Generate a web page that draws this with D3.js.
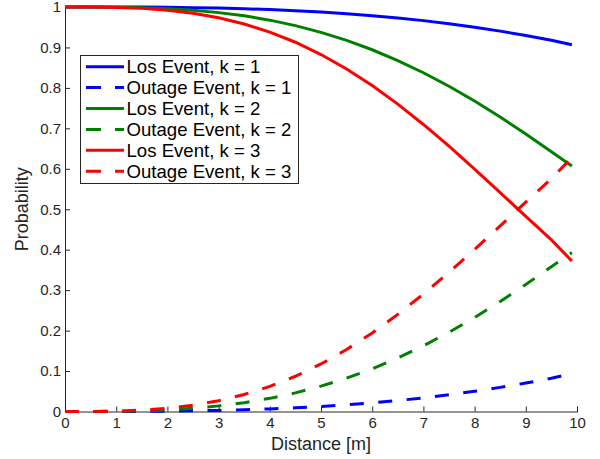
<!DOCTYPE html>
<html>
<head>
<meta charset="utf-8">
<script src="https://cdn.jsdelivr.net/npm/d3@7"></script>
<style>
  html, body { margin: 0; padding: 0; background: #fff; }
  svg { display: block; font-family: "Liberation Sans", Arial, Helvetica, sans-serif; }
</style>
</head>
<body>
<svg id="chart" width="600" height="459"></svg>
<script>
// ---- Data ----
const distance = [0, 0.5, 1, 1.5, 2, 2.5, 3, 3.5, 4, 4.5, 5, 5.5, 6, 6.5, 7, 7.5, 8, 8.5, 9, 9.5, 9.9];

const losK1 = [1, 1.0000, 0.9999, 0.9997, 0.9992, 0.9984, 0.9973, 0.9957, 0.9936, 0.9909, 0.9876,
               0.9835, 0.9786, 0.9729, 0.9663, 0.9587, 0.9501, 0.9404, 0.9297, 0.9179, 0.9065];
const outK1 = [0, 0.0000, 0.0001, 0.0003, 0.0008, 0.0016, 0.0027, 0.0043, 0.0064, 0.0091, 0.0124,
               0.0165, 0.0214, 0.0271, 0.0337, 0.0413, 0.0499, 0.0596, 0.0703, 0.0821, 0.0935];
const losK2 = [1, 0.9999, 0.9995, 0.9983, 0.9959, 0.9920, 0.9861, 0.9781, 0.9675, 0.9540, 0.9374,
               0.9176, 0.8943, 0.8676, 0.8375, 0.8041, 0.7675, 0.7280, 0.6860, 0.6419, 0.6070];
const outK2 = [0, 0.0001, 0.0005, 0.0017, 0.0041, 0.0080, 0.0139, 0.0219, 0.0325, 0.0460, 0.0626,
               0.0824, 0.1057, 0.1324, 0.1625, 0.1959, 0.2325, 0.2720, 0.3140, 0.3581, 0.3930];
const losK3 = [1, 0.9999, 0.9990, 0.9966, 0.9920, 0.9845, 0.9734, 0.9580, 0.9380, 0.9129, 0.8825,
               0.8467, 0.8057, 0.7599, 0.7096, 0.6558, 0.5993, 0.5411, 0.4824, 0.4243, 0.3720];
const outK3 = [0, 0.0001, 0.0010, 0.0034, 0.0080, 0.0155, 0.0266, 0.0420, 0.0620, 0.0871, 0.1175,
               0.1533, 0.1943, 0.2401, 0.2904, 0.3442, 0.4007, 0.4589, 0.5176, 0.5757, 0.6280];

const seriesNames = ["Los Event, k = 1", "Outage Event, k = 1", "Los Event, k = 2",
                     "Outage Event, k = 2", "Los Event, k = 3", "Outage Event, k = 3"];
const seriesValues = [losK1, outK1, losK2, outK2, losK3, outK3];
const seriesColors = ["#0000ff", "#0000ff", "#008000", "#008000", "#ff0000", "#ff0000"];
const seriesDashed = [false, true, false, true, false, true];

const xTicks = [0, 1, 2, 3, 4, 5, 6, 7, 8, 9, 10];
const yTicks = [0, 0.1, 0.2, 0.3, 0.4, 0.5, 0.6, 0.7, 0.8, 0.9, 1];
const xLabel = "Distance [m]";
const yLabel = "Probability";

// ---- Drawing ----
const svg = d3.select("#chart");
const axisColor = "#262626";

const x = d3.scaleLinear().domain([0, 10]).range([65, 577]);
const y = d3.scaleLinear().domain([0, 1]).range([411.5, 7]);

// Axes
const gx = svg.append("g").attr("transform", `translate(0,${y(0)})`)
  .call(d3.axisBottom(x).tickValues(xTicks).tickSize(-5).tickPadding(6).tickFormat(d3.format("d")));
const gy = svg.append("g").attr("transform", `translate(${x(0)},0)`)
  .call(d3.axisLeft(y).tickValues(yTicks).tickSize(-5).tickPadding(4)
        .tickFormat(d => d === 0 ? "0" : d === 1 ? "1" : d3.format(".1f")(d)));

[gx, gy].forEach(g => {
  g.select(".domain").attr("stroke", axisColor).attr("stroke-width", 1);
  g.selectAll(".tick line").attr("stroke", axisColor).attr("stroke-width", 1);
  g.selectAll(".tick text").attr("fill", axisColor)
    .style("font-family", "'Liberation Sans', Arial, sans-serif").style("font-size", "15px");
});
gx.selectAll(".tick text").attr("dy", "0.71em");

// Axis labels
svg.append("text").attr("x", x(5)).attr("y", 450)
  .attr("text-anchor", "middle").attr("fill", axisColor)
  .style("font-size", "18px").text(xLabel);
svg.append("text")
  .attr("transform", `translate(28,${(y(0) + y(1)) / 2}) rotate(-90)`)
  .attr("text-anchor", "middle").attr("fill", axisColor)
  .style("font-size", "18px").text(yLabel);

// Lines
const line = d3.line().x((d, i) => x(distance[i])).y(d => y(d));
seriesValues.forEach((vals, i) => {
  svg.append("path")
    .datum(vals)
    .attr("fill", "none")
    .attr("stroke", seriesColors[i])
    .attr("stroke-width", 3)
    .attr("stroke-dasharray", seriesDashed[i] ? "14,14.5" : null)
    .attr("d", line);
});

// Legend
const lg = svg.append("g");
lg.append("rect").attr("x", 80.5).attr("y", 55.5).attr("width", 218).attr("height", 128)
  .attr("fill", "#fff").attr("stroke", axisColor).attr("stroke-width", 1);
seriesNames.forEach((name, i) => {
  const cy = 66.7 + i * 20.9;
  lg.append("line").attr("x1", 86).attr("x2", 124).attr("y1", cy).attr("y2", cy)
    .attr("stroke", seriesColors[i]).attr("stroke-width", 3)
    .attr("stroke-dasharray", seriesDashed[i] ? "15,14" : null);
  lg.append("text").attr("x", 126.5).attr("y", cy).attr("dy", "0.35em")
    .attr("fill", "#000").style("font-size", "18.6px").text(name);
});
</script>
</body>
</html>
